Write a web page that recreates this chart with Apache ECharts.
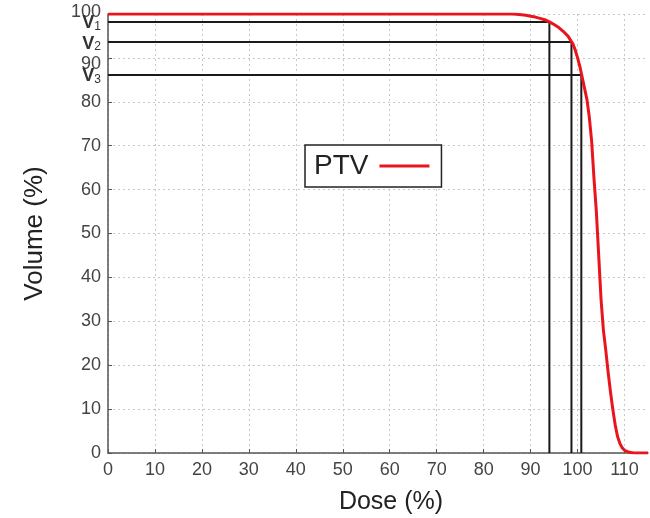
<!DOCTYPE html>
<html>
<head>
<meta charset="utf-8">
<script src="https://cdn.jsdelivr.net/npm/echarts@6/dist/echarts.min.js"></script>
<style>html,body{margin:0;padding:0;background:#fff}#c{width:650px;height:518px}</style>
</head>
<body>
<div id="c"></div>
<script>
// PTV dose-volume histogram
const doseValues = [0, 86, 87, 88, 89, 90, 91, 92, 93, 94, 95, 96, 97, 98, 99, 99.5, 100, 100.5, 101, 101.5, 102, 102.5, 103, 103.5, 104, 104.5, 105, 105.5, 106, 106.5, 107, 107.5, 108, 108.5, 109, 109.5, 110, 111, 112, 115];
const volumeValues = [100, 100, 99.95, 99.85, 99.7, 99.5, 99.3, 99.0, 98.7, 98.2, 97.6, 96.9, 96.0, 94.9, 93.2, 91.8, 90.0, 88.0, 85.5, 83.0, 80.5, 76.5, 71, 62.5, 55, 45, 35, 28, 23.5, 18.5, 14, 10, 6.5, 3.8, 2.2, 1.2, 0.6, 0.15, 0, 0];
// reference points V1, V2, V3 (dose, volume)
const refNames = ['1', '2', '3'];
const refDose = [94.0, 98.7, 100.8];
const refVolume = [98.2, 93.6, 86.1];
const seriesName = 'PTV';
const xTicks = [0, 10, 20, 30, 40, 50, 60, 70, 80, 90, 100, 110];
const yTicks = [0, 10, 20, 30, 40, 50, 60, 70, 80, 90, 100];

const font = 'Liberation Sans';
const chart = echarts.init(document.getElementById('c'), null, {renderer: 'canvas'});

const refSeries = refNames.map((n, i) => ({
  type: 'line',
  silent: true,
  data: [[0, refVolume[i]], [refDose[i], refVolume[i]], [refDose[i], 0]],
  showSymbol: false,
  symbol: 'none',
  lineStyle: {color: '#1a1a1a', width: 2},
  z: 2,
  markPoint: {
    symbol: 'circle',
    symbolSize: 0,
    silent: true,
    itemStyle: {color: 'transparent'},
    data: [{coord: [0, refVolume[i]], value: n}],
    label: {
      show: true,
      position: 'left',
      distance: 7,
      formatter: p => '{v|V}{s|' + p.value + '}',
      rich: {
        v: {fontFamily: font, fontSize: 18, fontWeight: 'bold', color: '#333', padding: [3, 0, 0, 0]},
        s: {fontFamily: font, fontSize: 12, color: '#333', padding: [9, 0, 0, 0]}
      }
    }
  }
}));

chart.setOption({
  animation: false,
  backgroundColor: '#fff',
  grid: {left: 108, right: 2, top: 14, bottom: 65, containLabel: false, outerBoundsMode: 'none'},
  legend: {
    show: true,
    data: [seriesName],
    left: 305,
    top: 145,
    orient: 'horizontal',
    align: 'right',
    icon: 'rect',
    itemWidth: 50,
    itemHeight: 3,
    borderColor: '#222',
    borderWidth: 1.5,
    borderRadius: 0,
    backgroundColor: '#fff',
    padding: [7, 12, 7, 9],
    itemGap: 10,
    textStyle: {fontFamily: font, fontSize: 28, color: '#222', padding: [0, 6, 0, 0]}
  },
  xAxis: {
    type: 'value',
    min: 0, max: 115, interval: 10,
    name: 'Dose (%)',
    nameLocation: 'middle',
    nameGap: 37,
    nameTextStyle: {fontFamily: font, fontSize: 25, color: '#222', padding: [0, 0, 0, 26]},
    axisLine: {show: true, lineStyle: {color: '#555', width: 1.5}},
    axisTick: {show: true, inside: true, length: 4, lineStyle: {color: '#555'}, customValues: xTicks},
    axisLabel: {fontFamily: font, fontSize: 18, color: '#444', margin: 8, customValues: xTicks,
      formatter: v => String(v)},
    splitLine: {show: true, lineStyle: {color: '#c8c8c8', type: [2, 3], width: 1}}
  },
  yAxis: {
    type: 'value',
    min: 0, max: 100, interval: 10,
    name: 'Volume (%)',
    nameLocation: 'middle',
    nameGap: 60,
    nameTextStyle: {fontFamily: font, fontSize: 26, color: '#222'},
    axisLine: {show: true, lineStyle: {color: '#555', width: 1.5}},
    axisTick: {show: true, inside: true, length: 4, lineStyle: {color: '#555'}},
    axisLabel: {fontFamily: font, fontSize: 18, color: '#444', margin: 7,
      formatter: v => v === 90 ? '{lo|90}' : (v === 100 ? '{hi|100}' : String(v)),
      rich: {
        lo: {fontFamily: font, fontSize: 18, color: '#444', padding: [12, 0, 0, 0]},
        hi: {fontFamily: font, fontSize: 18, color: '#444', padding: [0, 0, 4, 0]}
      }
    },
    splitLine: {show: true, lineStyle: {color: '#c8c8c8', type: [2, 3], width: 1}}
  },
  series: [
    ...refSeries,
    {
      name: seriesName,
      type: 'line',
      data: doseValues.map((d, i) => [d, volumeValues[i]]),
      showSymbol: false,
      symbol: 'none',
      smooth: false,
      lineStyle: {color: '#e8161c', width: 3, join: 'round'},
      itemStyle: {color: '#e8161c'},
      z: 5
    }
  ]
});
</script>
</body>
</html>
